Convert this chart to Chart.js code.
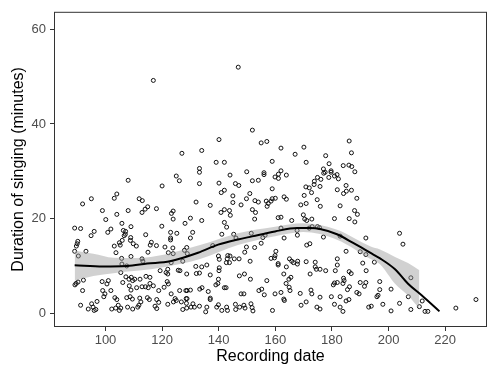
<!DOCTYPE html>
<html>
<head>
<meta charset="utf-8">
<script src="https://cdn.jsdelivr.net/npm/chart.js@4.4.1/dist/chart.umd.min.js"></script>
<style>
  html, body { margin:0; padding:0; background:#fff; }
</style>
</head>
<body>
<canvas id="chart" width="495" height="368"></canvas>
<script>
// axis ticks
const xTicks = [100, 120, 140, 160, 180, 200, 220];
const yTicks = [0, 20, 40, 60];

// [recording date, minutes of singing]
const recordings = [
  [108.0,28.1],[120.0,26.9],[104.0,25.2],[103.1,24.3],[95.0,24.2],[91.9,23.1],[111.9,24.2],[113.0,23.8],[98.9,21.7],[104.0,20.9],
  [108.0,21.7],[114.9,22.5],[114.0,22.0],[118.0,22.1],[112.9,21.3],[100.1,19.8],
  [89.1,18.0],[91.2,17.9],[96.0,17.3],[94.9,16.4],[101.9,17.8],[100.8,17.1],[105.8,19.0],[109.0,18.3],[106.3,17.5],[107.1,17.3],
  [107.0,16.7],[106.6,16.4],[108.9,16.0],[114.2,16.6],[119.9,18.4],[90.2,15.2],[90.0,14.7],[89.7,14.2],[89.1,13.1],[93.1,13.1],
  [90.4,12.1],[103.1,14.2],[104.9,14.9],[105.2,14.4],[105.9,15.4],[108.8,15.4],[109.8,14.7],[110.9,14.2],[116.2,15.0],[115.8,14.4],
  [118.0,14.3],[121.0,14.0],[103.7,12.8],[115.0,12.9],[109.0,12.0],[105.7,11.6],[112.9,11.5],[113.2,11.0],[122.2,12.8],[105.8,10.4],
  [107.5,10.0],[105.4,8.6],[89.6,6.3],[90.3,6.6],[89.2,6.0],[92.2,7.0],[91.9,4.8],[98.8,6.7],[101.0,6.9],[100.5,6.2],
  [106.1,6.5],[107.2,7.7],[108.3,7.2],[109.1,7.6],[109.6,6.9],[110.3,7.2],[112.2,7.2],[114.3,7.8],[115.7,7.6],[119.3,9.0],
  [121.4,8.6],[122.0,8.3],[108.4,5.8],[109.0,4.9],[111.0,5.4],[112.9,5.6],[114.1,5.6],[115.1,5.4],[116.9,5.8],[115.7,6.3],
  [118.8,4.8],[120.7,5.5],[122.2,6.2],[99.0,4.8],[99.8,4.1],[99.4,3.5],[101.9,4.8],[103.3,3.3],[104.0,2.9],[107.5,3.3],
  [108.7,3.5],[109.5,3.0],[112.1,3.2],[112.5,2.4],[111.8,1.7],[114.8,3.3],[115.5,2.9],[118.1,2.9],[118.8,2.3],[91.2,1.7],
  [95.1,2.0],[95.6,1.3],[96.6,0.8],[96.0,0.6],[97.0,2.5],[93.9,0.9],[102.2,0.9],[103.6,1.1],[104.5,1.7],[105.4,1.1],
  [104.9,0.6],[107.8,1.3],[109.6,0.9],[111.4,1.3],[117.5,1.5],[118.1,1.0],[122.0,1.9],
  [151.9,38.7],[140.1,36.7],[155.0,36.0],[157.0,36.3],[127.0,33.8],[134.0,34.4],[139.1,31.9],[142.0,31.9],[158.9,32.1],[133.2,30.6],
  [133.2,29.8],[125.0,29.0],[126.1,28.0],[144.0,29.2],[149.9,29.9],[156.0,29.7],[156.0,29.3],[159.9,28.8],[133.2,27.4],[140.1,27.5],
  [145.9,27.4],[147.1,27.0],[151.9,28.0],[154.0,28.1],[140.9,25.5],[142.0,26.0],[145.0,24.8],[151.0,25.3],[149.8,24.2],[152.8,23.8],
  [154.0,23.5],[132.0,23.5],[137.0,22.8],[145.0,23.4],[147.9,22.9],[156.8,23.7],[157.5,23.2],[157.1,22.6],[158.5,23.7],[158.9,24.2],
  [143.8,21.7],[144.1,20.7],[140.8,21.3],[142.0,21.9],[151.9,21.9],[153.0,21.3],[152.7,19.9],[123.3,21.1],[123.9,21.6],[123.9,19.9],
  [130.0,20.1],[134.0,19.6],
  [128.1,19.0],[142.0,19.2],[142.8,18.2],[123.0,17.1],[123.0,15.9],[123.0,15.5],[125.2,16.9],[130.8,17.1],[130.0,15.9],[141.1,16.7],
  [145.3,16.7],[146.1,15.9],[151.5,16.9],[155.6,16.0],[156.4,16.5],[123.8,13.8],[123.9,12.6],[128.7,13.9],[127.9,13.3],[128.9,12.6],
  [137.9,14.3],[149.8,14.0],[149.2,12.9],[152.7,13.9],[155.0,14.8],[123.2,10.7],[127.3,11.0],[139.9,12.1],[140.2,11.4],[143.2,12.2],
  [143.0,11.5],[144.0,12.1],[142.7,10.7],[143.8,10.7],[145.5,11.5],[147.2,11.5],[151.1,11.0],[158.5,11.6],[159.7,11.7],[122.0,9.3],
  [125.7,9.1],[126.3,9.0],[131.9,9.9],[134.0,9.8],[135.8,10.2],[132.1,8.4],[133.2,8.5],[128.7,8.3],[140.2,9.6],[140.1,9.0],
  [137.0,8.1],[147.3,7.9],[149.1,8.3],[139.9,7.2],[139.7,6.3],[139.0,6.0],[121.8,6.7],[151.2,7.2],[157.0,6.9],[142.6,5.4],
  [142.0,5.4],[126.2,4.8],[128.4,4.8],[128.8,4.8],[130.0,4.9],[133.3,5.1],[134.1,5.4],[136.3,4.6],[123.2,4.1],[154.2,4.8],
  [155.2,5.1],[156.1,3.9],[147.9,4.1],[148.9,4.1],[124.6,3.1],[125.0,2.7],[124.0,2.4],[126.8,2.4],[128.5,3.1],[128.8,3.1],
  [128.6,2.1],[130.9,2.0],[131.4,1.3],[133.2,1.5],[137.0,3.2],[137.0,2.9],[139.3,1.3],[139.9,1.8],[135.8,1.3],[127.3,0.8],
  [128.7,1.1],[130.2,1.3],[135.4,0.3],[142.8,1.3],[143.1,0.6],[141.1,0.6],[145.9,1.9],[147.4,1.3],[148.9,1.7],[149.3,1.1],
  [151.4,2.0],[151.8,1.2],[152.1,0.5],[159.0,0.6],[146.0,0.8],
  [186.1,36.4],[162.0,34.9],[170.1,35.1],[167.0,33.6],[186.9,33.9],[177.8,33.3],[170.9,31.9],[179.0,31.6],[184.0,31.2],[186.0,31.3],
  [187.0,31.0],[188.1,29.9],[162.0,30.1],[161.1,29.4],[161.1,28.5],[163.9,29.2],[177.0,30.5],[177.6,29.8],[177.1,29.6],[179.7,30.1],
  [179.7,29.8],[178.9,28.7],[180.9,29.0],[181.8,29.3],[182.3,28.4],[174.9,28.7],[176.1,28.3],[173.8,27.9],[173.7,27.2],[175.8,26.8],
  [170.8,26.7],[172.0,26.5],[172.8,25.5],[158.9,26.3],[181.9,26.1],[185.0,27.0],[184.1,25.3],[185.1,25.8],[186.9,26.0],[188.8,24.3],
  [160.0,24.3],[163.1,24.6],[163.9,24.1],[170.2,24.9],[174.8,24.0],[170.9,23.2],[169.0,22.9],[175.9,22.6],[182.9,22.7],[188.0,21.7],
  [189.0,20.9],[161.0,20.2],[162.0,20.3],[165.8,19.6],[169.9,20.8],[170.4,19.9],[171.1,19.6],[172.9,19.9],[180.9,20.0],[186.1,20.0],
  [173.0,18.3],[174.9,18.3],[175.6,18.1],[172.0,18.0],[188.1,19.3],[162.0,18.0],[167.7,17.5],[167.8,16.5],[163.1,15.9],[171.1,14.4],
  [172.2,14.7],[177.0,16.1],[182.9,16.3],[192.0,15.9],[185.0,13.1],[190.0,13.0],[192.0,12.4],[160.2,13.1],[159.9,12.2],[161.0,10.5],
  [161.0,10.2],[165.0,11.5],[165.8,11.0],[166.4,10.7],[167.9,11.0],[167.8,10.4],[170.9,10.9],[174.1,10.8],[174.1,9.8],[163.9,9.8],
  [181.9,11.5],[181.9,10.2],[181.2,9.0],[180.9,6.4],[180.5,6.0],[186.1,8.8],[186.8,8.4],[190.9,10.6],[195.0,10.8],[192.1,9.0],
  [172.3,8.3],[174.5,9.3],[175.8,9.3],[177.8,9.0],[163.0,8.3],[164.8,7.2],[165.5,7.6],[163.8,6.3],[164.9,5.5],[165.2,4.8],
  [162.0,4.4],[159.9,4.1],[163.0,3.0],[163.2,2.7],[168.8,4.2],[172.6,4.9],[172.9,4.1],[175.8,3.4],[179.8,3.5],[181.9,6.5],
  [184.1,7.4],[184.3,6.9],[183.9,6.3],[186.2,5.6],[185.5,5.0],[182.9,3.5],[188.8,4.4],[189.6,4.1],[190.0,6.5],[192.0,6.5],
  [191.5,5.7],[196.3,3.8],[186.0,2.9],[185.0,2.6],[170.9,2.4],[169.1,1.7],[174.7,1.3],[175.8,0.9],[180.9,1.9],[182.9,1.3],
  [183.9,0.4],[193.0,1.3],[193.9,1.5],
  [203.9,16.9],[205.1,14.6],[207.9,7.5],[196.9,6.7],[196.9,5.0],[200.9,5.1],[195.9,3.5],[207.0,3.5],[211.9,2.6],[198.0,1.9],
  [203.9,2.1],[210.9,1.4],[200.9,0.5],[207.9,0.8],[212.9,0.4],[213.9,0.4],[223.8,1.1],[230.9,2.9],
  [146.9,52.0],[116.9,49.2]
];

// loess fit and its confidence band
const smoothX = [89.1, 99.1, 107.6, 114.7, 122.8, 132.7, 139.8, 146.8, 151.8, 159.9, 167.7, 172.3, 175.8, 181.8, 187.5, 193.5, 197.0, 202.3, 206.9, 211.8, 218.0];
const smoothY = [10.15, 9.9, 10.0, 10.5, 11.0, 12.8, 14.5, 15.6, 16.25, 17.3, 18.0, 18.0, 17.8, 16.7, 14.85, 12.8, 11.6, 9.3, 6.25, 3.75, 0.4];
const bandX    = [89.1, 95.7, 102.8, 111.0, 121.0, 133.4, 146.8, 159.9, 169.8, 181.8, 193.5, 197.0, 202.3, 206.9, 210.9];
const bandHigh = [13.27, 12.56, 11.73, 11.67, 12.44, 14.4, 16.9, 18.3, 19.0, 17.65, 14.17, 13.48, 11.9, 10.6, 9.1];
const bandLow  = [6.88, 7.85, 8.48, 8.96, 9.79, 11.46, 14.4, 16.25, 17.15, 15.55, 11.52, 10.35, 6.25, 3.75, 0.98];

const FONT = "'Liberation Sans', Arial, sans-serif";
const xy = (xs, ys) => xs.map((x, i) => ({ x, y: ys[i] }));

const panelBorder = {
  id: 'panelBorder',
  afterDraw(chart) {
    const { ctx, chartArea: a } = chart;
    ctx.save();
    ctx.strokeStyle = '#333';
    ctx.lineWidth = 1;
    ctx.strokeRect(a.left + 0.5, a.top + 0.5, a.right - a.left - 1, a.bottom - a.top - 1);
    ctx.restore();
  }
};

new Chart(document.getElementById('chart'), {
  type: 'scatter',
  data: {
    datasets: [
      {
        data: recordings.map(([x, y]) => ({ x, y })),
        pointRadius: 2, pointBorderWidth: 1,
        borderColor: '#111', backgroundColor: 'rgba(0,0,0,0)',
        showLine: false, order: 3
      },
      {
        type: 'line', data: xy(bandX, bandLow),
        borderColor: 'rgba(0,0,0,0)', pointRadius: 0, fill: false,
        cubicInterpolationMode: 'monotone', order: 2
      },
      {
        type: 'line', data: xy(bandX, bandHigh),
        borderColor: 'rgba(0,0,0,0)', pointRadius: 0,
        fill: '-1', backgroundColor: 'rgba(153,153,153,0.45)',
        cubicInterpolationMode: 'monotone', order: 2
      },
      {
        type: 'line', data: xy(smoothX, smoothY),
        borderColor: '#000', borderWidth: 2, pointRadius: 0, fill: false,
        cubicInterpolationMode: 'monotone', order: 1
      }
    ]
  },
  options: {
    responsive: false, animation: false,
    layout: { padding: { top: 7, right: 8, left: 0, bottom: 0 } },
    plugins: { legend: { display: false }, tooltip: { enabled: false } },
    scales: {
      x: {
        type: 'linear', min: 81.8, max: 234.8,
        afterBuildTicks: s => { s.ticks = xTicks.map(v => ({ value: v })); },
        afterFit: s => { s.height = 41; },
        grid: { display: true, drawOnChartArea: false, tickLength: 4, tickColor: '#333' },
        border: { display: false },
        ticks: { color: '#4d4d4d', font: { family: FONT, size: 13 }, padding: 2, maxRotation: 0, autoSkip: false },
        title: { display: true, text: 'Recording date', color: '#000', font: { family: FONT, size: 16 }, padding: { top: 0, bottom: 2 } }
      },
      y: {
        type: 'linear', min: -2.9, max: 63.7,
        afterBuildTicks: s => { s.ticks = yTicks.map(v => ({ value: v })); },
        afterFit: s => { s.width = 54; },
        grid: { display: true, drawOnChartArea: false, tickLength: 4, tickColor: '#333' },
        border: { display: false },
        ticks: { color: '#4d4d4d', font: { family: FONT, size: 13 }, padding: 4 },
        title: { display: true, text: 'Duration of singing (minutes)', color: '#000', font: { family: FONT, size: 16 }, padding: { top: 9, bottom: 0 } }
      }
    }
  },
  plugins: [panelBorder]
});
</script>
</body>
</html>
